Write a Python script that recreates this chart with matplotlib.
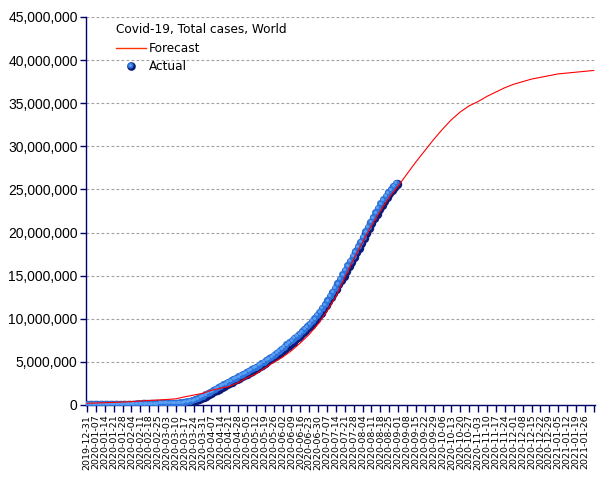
import numpy as np
import pandas as pd
import matplotlib
matplotlib.use("Agg")
import matplotlib.pyplot as plt
from matplotlib.lines import Line2D
from matplotlib.ticker import FuncFormatter
import matplotlib.transforms as mtransforms

# ---------------- data ----------------
start_date = "2019-12-31"

# Actual cumulative cases (thousands), every 2 days from 2019-12-31
actual_day = list(range(0, 246, 2))
actual_k = [
    0.03, 0.04, 0.04, 0.05, 0.06, 0.06, 0.06, 0.06, 0.06, 0.06,
    0.28, 0.56, 0.94, 2.1, 5.6, 8.2, 12, 20, 28, 34.4,
    40, 45, 60, 69, 73, 75.6, 76.8, 79, 80.4, 83,
    86, 90, 95, 101, 109, 118, 128, 156, 181, 218,
    272, 337, 417, 530, 661, 781, 932, 1096, 1250, 1412,
    1577, 1750, 1900, 2063, 2240, 2400, 2550, 2710, 2890, 3040,
    3180, 3350, 3500, 3640, 3820, 3990, 4150, 4320, 4510, 4690,
    4870, 5080, 5300, 5480, 5680, 5930, 6170, 6380, 6620, 6880,
    7110, 7360, 7630, 7880, 8130, 8420, 8730, 9000, 9300, 9620,
    9930, 10300, 10700, 11120, 11560, 12020, 12500, 12980, 13480, 13980,
    14490, 15000, 15530, 16070, 16600, 17150, 17700, 18250, 18820, 19400,
    20000, 20550, 21100, 21650, 22200, 22750, 23250, 23700, 24150, 24550,
    24900, 25250, 25600,
]

# Forecast (millions), weekly from 2019-12-31
forecast_day = list(range(0, 400, 7))
forecast_m = [
    0.20, 0.23, 0.27, 0.30, 0.34, 0.40, 0.46, 0.52, 0.58, 0.64,
    0.72, 0.95, 1.15, 1.35, 1.70, 1.95, 2.15, 2.60, 3.15, 3.60,
    4.30, 4.95, 5.55, 6.30, 7.20, 8.20, 9.40, 10.90, 12.60, 14.80,
    16.90, 18.90, 20.80, 22.50, 24.10, 25.40, 26.80, 28.20, 29.50, 30.80,
    32.00, 33.10, 34.00, 34.70, 35.20, 35.80, 36.30, 36.80, 37.20, 37.50,
    37.80, 38.00, 38.20, 38.40, 38.50, 38.60, 38.70, 38.80,
]

tick_day = list(range(0, 400, 7))
tick_labels = [d.strftime("%Y-%m-%d") for d in pd.date_range(start_date, periods=len(tick_day), freq="7D")]
tick_labels[-1] = ""

y_ticks = list(range(0, 45_000_001, 5_000_000))

title_text = "Covid-19, Total cases, World"
legend_forecast = "Forecast"
legend_actual = "Actual"

# ---------------- figure ----------------
W, H = 605, 480
fig = plt.figure(figsize=(W / 100, H / 100), dpi=100)
def fx(x): return x / W
def fy(y): return 1 - y / H

ax = fig.add_axes([fx(86), fy(405), fx(595) - fx(86), fy(17) - fy(405)])
navy = "#000066"

ax.set_xlim(-0.8, 400)
ax.set_ylim(0, 45_000_000)

for yv in y_ticks:
    ax.axhline(yv, color="#a0a0a0", lw=0.8, ls=(0, (2.5, 2.0)), zorder=0)

fc = np.array(forecast_m) * 1e6

# Actual dots (sphere-like: dark base + lighter offset)
ay = np.array(actual_k) * 1e3
ax.plot(actual_day, ay, ls="none", marker="o", ms=6.8, mfc="#0c1a78", mec="#0c1a78", mew=0, zorder=3)
off = mtransforms.offset_copy(ax.transData, fig=fig, x=-1.2, y=1.2, units="dots")
ax.plot(actual_day, ay, ls="none", marker="o", ms=5.0, mfc="#2f74dc", mec="#2f74dc", mew=0, zorder=4, transform=off)
off2 = mtransforms.offset_copy(ax.transData, fig=fig, x=-1.8, y=1.8, units="dots")
ax.plot(actual_day, ay, ls="none", marker="o", ms=2.2, mfc="#5aa0f5", mec="#5aa0f5", mew=0, zorder=5, transform=off2)

# Forecast line
ax.plot(forecast_day, fc, color="#ff0000", lw=0.8, zorder=6)

# Axes styling
for s in ["top", "right"]:
    ax.spines[s].set_visible(False)
for s in ["left", "bottom"]:
    ax.spines[s].set_color(navy)
    ax.spines[s].set_linewidth(1.0)

ax.set_yticks(y_ticks)
ax.yaxis.set_major_formatter(FuncFormatter(lambda v, p: f"{int(v):,}"))
ax.tick_params(axis="y", direction="out", length=4, width=1.0, color=navy, pad=2,
               labelsize=10, labelcolor="black")
for lab in ax.get_yticklabels():
    lab.set_fontfamily("Liberation Sans")

ax.set_xticks(tick_day)
ax.set_xticklabels(tick_labels, rotation=90, fontsize=6.8, fontfamily="DejaVu Sans")
ax.tick_params(axis="x", direction="out", length=5, width=1.0, color=navy, pad=2)

# Legend (manual)
fig.text(fx(116), fy(29), title_text, fontsize=8.7, fontfamily="DejaVu Sans", va="center", ha="left")
fig.add_artist(Line2D([fx(116), fx(146)], [fy(48), fy(48)], color="#ff3300", lw=1.0, transform=fig.transFigure))
fig.text(fx(149), fy(48), legend_forecast, fontsize=8.7, fontfamily="DejaVu Sans", va="center", ha="left")
fig.add_artist(Line2D([fx(131)], [fy(66)], ls="none", marker="o", ms=6.2, mfc="#0c1a78", mew=0, transform=fig.transFigure))
fig.add_artist(Line2D([fx(130.3)], [fy(65.3)], ls="none", marker="o", ms=4.4, mfc="#2f74dc", mew=0, transform=fig.transFigure))
fig.add_artist(Line2D([fx(129.8)], [fy(64.8)], ls="none", marker="o", ms=1.8, mfc="#6aaaf8", mew=0, transform=fig.transFigure))
fig.text(fx(149), fy(66), legend_actual, fontsize=8.7, fontfamily="DejaVu Sans", va="center", ha="left")

fig.savefig("out.png", dpi=100)
